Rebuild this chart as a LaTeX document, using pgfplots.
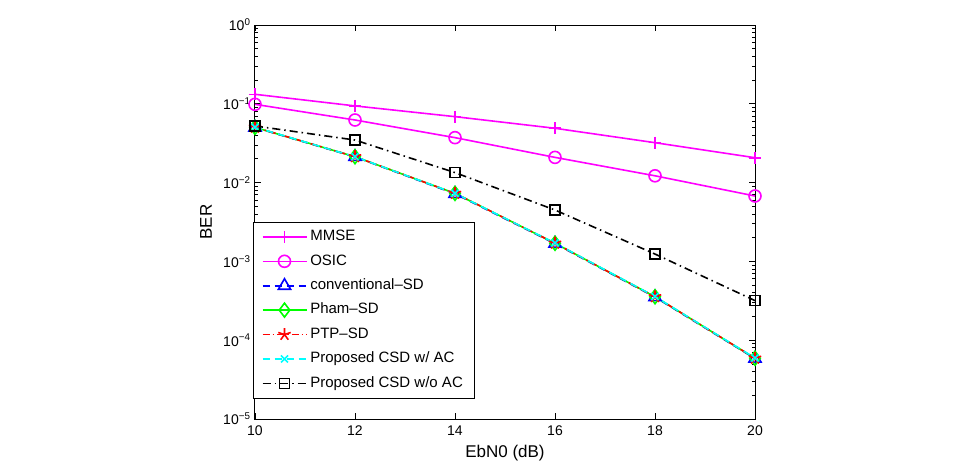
\documentclass[border=0pt]{standalone}
\usepackage{fontspec}
\setmainfont{Liberation Sans}
\usepackage{pgfplots}
\pgfplotsset{compat=1.18}
\usetikzlibrary{calc}
\definecolor{mag}{RGB}{255,0,255}
\definecolor{cy}{RGB}{0,255,255}
\definecolor{gr}{RGB}{0,255,0}
\begin{document}
\begin{tikzpicture}
\begin{axis}[
  scale only axis, width=500pt, height=394pt,
  xmin=10, xmax=20, ymode=log, ymin=1e-5, ymax=1,
  xtick={10,12,...,20},
  ytick={1e-5,1e-4,1e-3,1e-2,1e-1,1},
  yticklabels={10\textsuperscript{−5},10\textsuperscript{−4},10\textsuperscript{−3},10\textsuperscript{−2},10\textsuperscript{−1},10\textsuperscript{0}},
  tick align=inside, tick pos=both,
  major tick length=6pt, minor tick length=3.5pt,
  axis line style={line width=1pt},
  every tick/.style={black, line width=0.8pt},
  /pgf/number format/assume math mode=true,
  tick label style={font=\fontsize{14}{16}\selectfont},
  xticklabel style={yshift=-3pt},
  yticklabel style={xshift=-1pt},
  xlabel={EbN0 (dB)}, ylabel={BER},
  label style={font=\fontsize{17}{20}\selectfont},
  xlabel style={at={(axis description cs:0.5,0)}, anchor=center, yshift=-34pt},
  ylabel style={at={(axis description cs:0,0.5)}, anchor=center, yshift=49pt},
  legend cell align=left,
  legend style={at={(-0.004,0.5)}, anchor=north west, draw=black,
    font=\fontsize{15}{17}\selectfont, inner xsep=8.5pt, inner ysep=2.5pt,
    nodes={inner ysep=5pt, inner xsep=3pt, text height=11pt, text depth=3.4pt}},
  legend image code/.code={\draw[line width=1.6pt, mark repeat=2, mark phase=2] plot coordinates {(0pt,0pt) (22pt,0pt) (44pt,0pt)};},
  every axis plot/.append style={line width=1.6pt},
]
\addplot[mag, mark=+, mark size=6pt, mark options={solid}] coordinates {
  (10,0.132) (12,0.094) (14,0.0687) (16,0.0489) (18,0.0321) (20,0.0207)};
\addlegendentry{MMSE}
\addplot[mag, mark=o, mark size=6pt, mark options={solid}] coordinates {
  (10,0.0985) (12,0.0623) (14,0.0372) (16,0.0209) (18,0.0122) (20,0.00676)};
\addlegendentry{OSIC}
\addplot[blue, dash pattern=on 7pt off 5pt, mark=triangle, mark size=7pt, mark options={solid}] coordinates {
  (10,0.0500) (12,0.0212) (14,0.0072) (16,0.00168) (18,0.000352) (20,0.0000585)};
\addlegendentry{conventional–SD}
\addplot[gr, mark=diamond, mark size=7pt, mark options={solid}] coordinates {
  (10,0.0502) (12,0.0213) (14,0.0073) (16,0.00170) (18,0.000356) (20,0.0000590)};
\addlegendentry{Pham–SD}
\addplot[red, dash pattern=on 7pt off 3pt on 1.5pt off 3pt, mark=star, mark size=6.5pt, mark options={solid}] coordinates {
  (10,0.0503) (12,0.0213) (14,0.0073) (16,0.00170) (18,0.000356) (20,0.0000590)};
\addlegendentry{PTP–SD}
\addplot[cy, dash pattern=on 7pt off 5pt, mark=x, mark size=5pt, mark options={solid}] coordinates {
  (10,0.0505) (12,0.0213) (14,0.0073) (16,0.00171) (18,0.000358) (20,0.0000595)};
\addlegendentry{Proposed CSD w/ AC}
\addplot[black, dash pattern=on 8pt off 4pt on 1.5pt off 4pt, mark=square, mark size=5pt, mark options={solid}] coordinates {
  (10,0.0523) (12,0.0347) (14,0.0134) (16,0.00449) (18,0.00124) (20,0.000318)};
\addlegendentry{Proposed CSD w/o AC}
\end{axis}
\path[use as bounding box] ($(current axis.south west)+(-255pt,-47pt)$) rectangle ($(current axis.north east)+(209pt,25pt)$);
\end{tikzpicture}
\end{document}
